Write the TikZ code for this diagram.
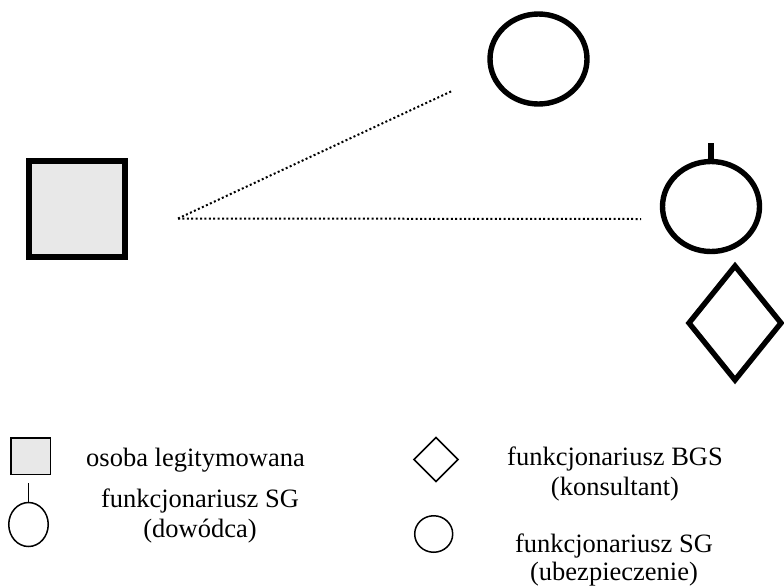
\documentclass[tikz,border=0pt]{standalone}
\usepackage{fontspec}
\setmainfont{Liberation Serif}
\usetikzlibrary{shapes.geometric}
\begin{document}
\begin{tikzpicture}[x=1pt,y=-1pt,
  bigsym/.style={draw=black,line width=5.4pt,inner sep=0pt,outer sep=0pt,line join=miter},
  smallsym/.style={draw=black,line width=1.5pt,inner sep=0pt,outer sep=0pt,line join=miter},
  person/.style={rectangle,fill=black!9},
  oval/.style={ellipse},
  rhomb/.style={diamond},
  contact/.style={line width=2pt,dash pattern=on 2pt off 2.4pt},
  label/.style={anchor=base,inner sep=0pt,font=\fontsize{26.5}{30}\selectfont}
]
\useasboundingbox (0,0) rectangle (784,587);

% scene: checked person, patrol and consultant
\node[bigsym,person,line width=6pt,minimum width=96pt,minimum height=96pt] (subject) at (77,209) {};
\node[bigsym,oval,minimum width=97pt,minimum height=90pt] (guard) at (538.5,59) {};
\node[bigsym,oval,minimum width=97pt,minimum height=90pt] (leader) at (711,206.5) {};
\draw[line width=6pt] (leader.north) -- ++(0,-19) coordinate (leadertop);
\node[bigsym,rhomb,minimum width=92pt,minimum height=114pt] (advisor) at (735,323) {};

% lines of sight
\coordinate (eye) at (178,218.5);
\coordinate (guardend) at (452,91);
\coordinate (leaderend) at (641,219);
\draw[contact] (eye) -- (guardend);
\draw[contact] (eye) -- (leaderend);

% legend
\node[smallsym,person,minimum width=39.5pt,minimum height=36.5pt] (keyperson) at (30.5,456) {};
\node[label,anchor=base west] (txtperson) at (86,466.5) {osoba legitymowana};

\node[smallsym,oval,minimum width=39.5pt,minimum height=44pt] (keyleader) at (28.5,524.5) {};
\draw[line width=1.5pt] (keyleader.north) -- ++(0,-19.5) coordinate (keyleadertop);
\node[label] (txtleader1) at (200,507) {funkcjonariusz SG};
\node[label] (txtleader2) at (200,537) {(dowódca)};

\node[smallsym,rhomb,minimum width=44pt,minimum height=44pt] (keyadvisor) at (436,459.5) {};
\node[label] (txtadvisor1) at (615,465.5) {funkcjonariusz BGS};
\node[label] (txtadvisor2) at (615,495.5) {(konsultant)};

\node[smallsym,oval,minimum width=38pt,minimum height=36.5pt] (keyguard) at (433.7,534) {};
\node[label] (txtguard1) at (614,552.5) {funkcjonariusz SG};
\node[label] (txtguard2) at (614,580.5) {(ubezpieczenie)};
\end{tikzpicture}
\end{document}
